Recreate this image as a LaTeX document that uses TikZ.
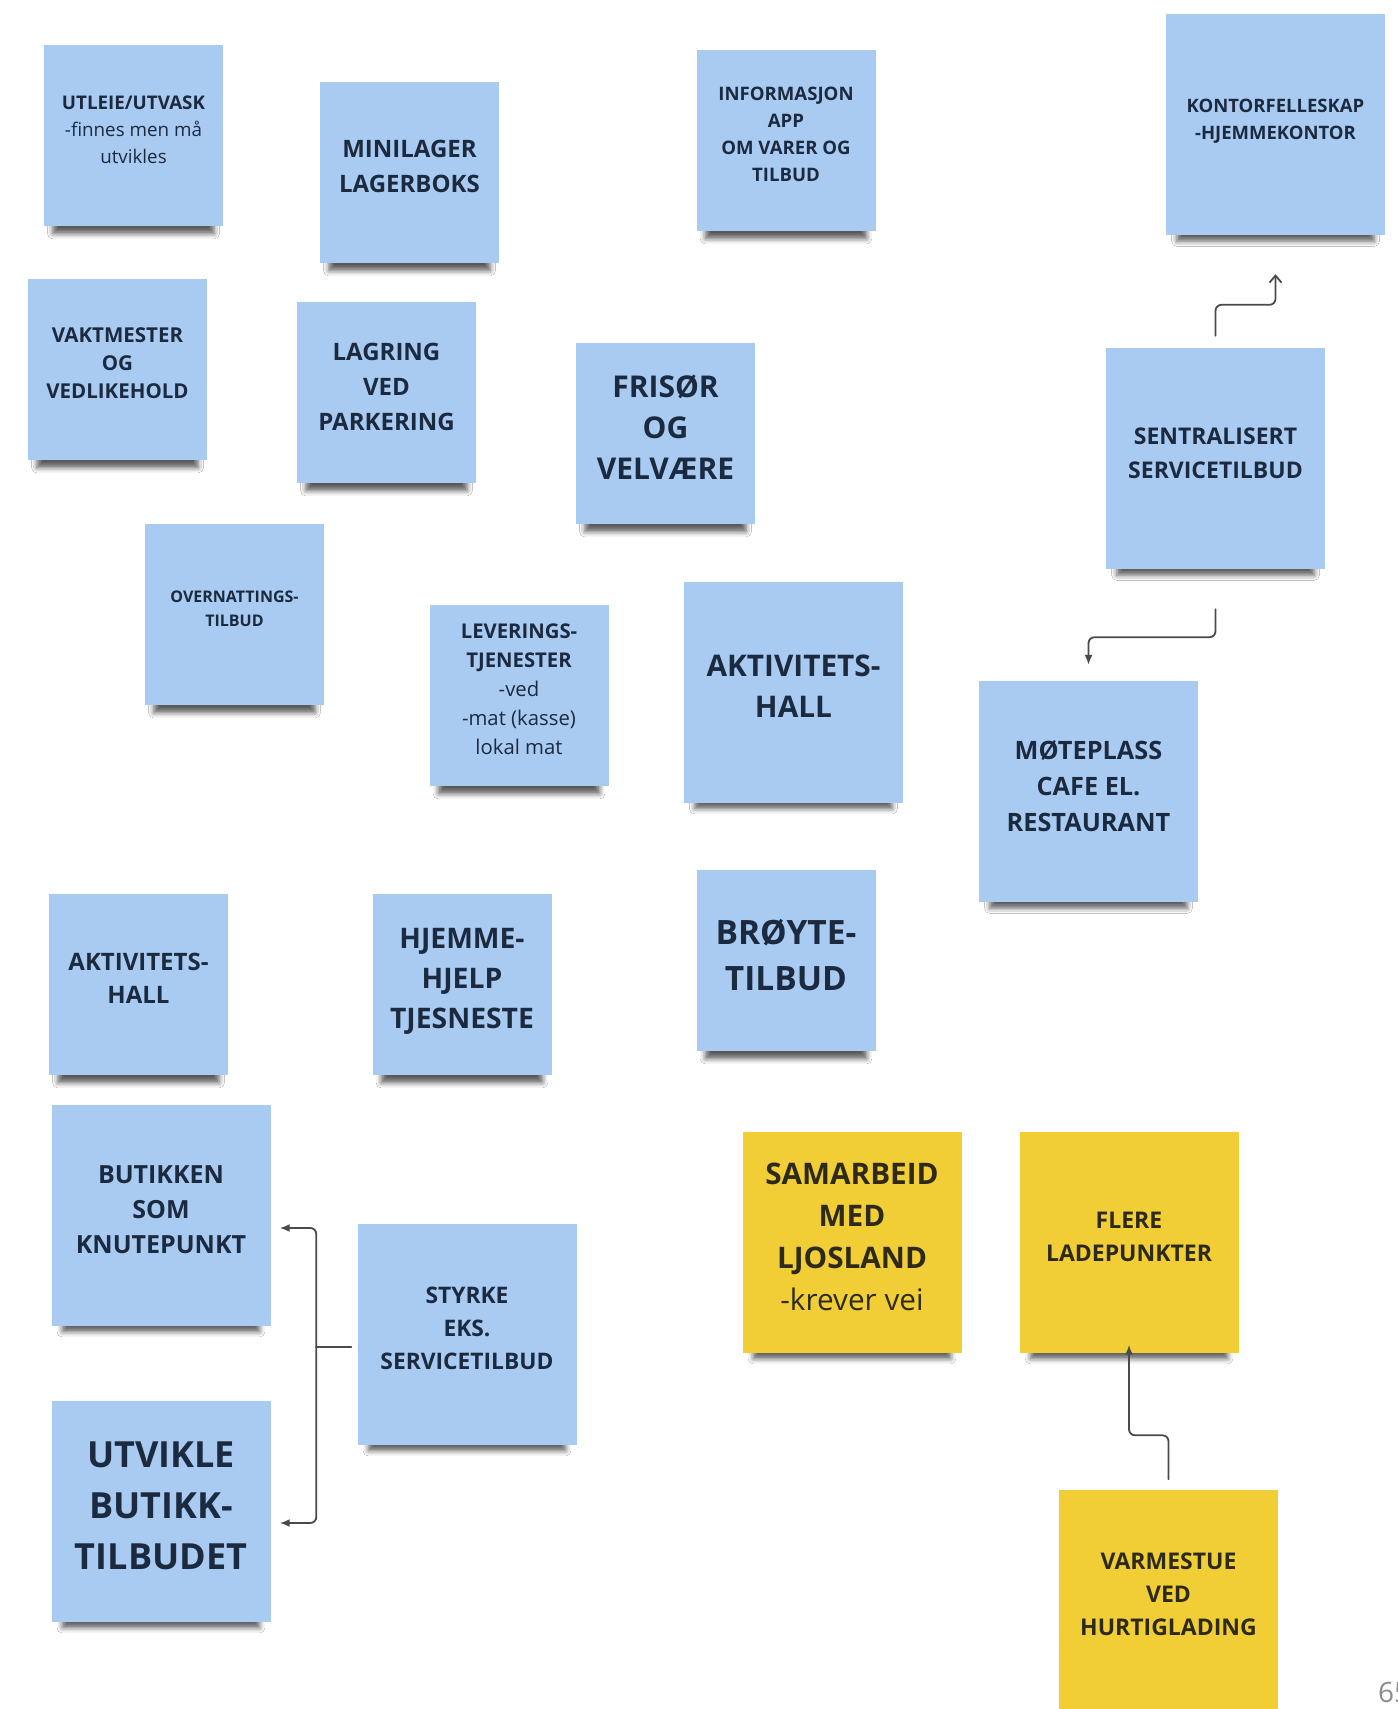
\documentclass[tikz,border=0pt]{standalone}
\usepackage{fontspec}
\setmainfont{Open Sans}
\usepackage{xcolor}
\usepackage{tikz}
\usetikzlibrary{calc,arrows.meta,shadows.blur}
\definecolor{paper}{HTML}{FFFFFF}
\definecolor{stickyblue}{HTML}{A9CBF2}
\definecolor{stickyyellow}{HTML}{F2CE36}
\definecolor{inkblue}{HTML}{1C2A40}
\definecolor{inkyellow}{HTML}{2E2A1A}
\definecolor{wire}{HTML}{4A4A4A}
\definecolor{pagenum}{HTML}{8C8C8C}
\tikzset{
  note/.style={minimum width=179pt, minimum height=181pt, inner sep=0pt, align=center,
    text depth=11pt,
    blur shadow={shadow xshift=0pt, shadow yshift=-19pt, shadow scale=0.9,
      shadow blur radius=6pt, shadow opacity=65}},
  bignote/.style={note, minimum width=219pt, minimum height=221pt},
  bluenote/.style={fill=stickyblue, text=inkblue},
  yellownote/.style={fill=stickyyellow, text=inkyellow},
  fs/.style 2 args={font=\fontsize{#1}{#2}\selectfont\bfseries},
  link/.style={draw=wire, line width=1.8pt, rounded corners=6pt, line cap=round},
  headarrow/.style={-{Latex[length=10pt,width=8pt]}},
}

\begin{document}
\begin{tikzpicture}[x=1pt, y=-1pt]
  \fill[paper] (0,0) rectangle (1398,1709);
  \useasboundingbox (0,0) rectangle (1398,1709);

  % blue stickies
  \node[note, bluenote, fs={18.8}{27}] (utleie) at (133.5,135)
    {UTLEIE/UTVASK\\{\mdseries -finnes men må}\\{\mdseries utvikles}};
  \node[note, bluenote, fs={24}{35}] (minilager) at (409.5,172) {MINILAGER\\LAGERBOKS};
  \node[note, bluenote, fs={18.6}{27}] (info) at (786,140) {INFORMASJON\\APP\\OM VARER OG\\TILBUD};
  \node[bignote, bluenote, fs={18.5}{27}] (kontor) at (1275.5,124.5) {KONTORFELLESKAP\\-HJEMMEKONTOR};
  \node[note, bluenote, fs={20.5}{28}] (vaktmester) at (117.5,369) {VAKTMESTER\\OG\\VEDLIKEHOLD};
  \node[note, bluenote, fs={24}{35}] (lagring) at (386.5,392) {LAGRING\\VED\\PARKERING};
  \node[note, bluenote, fs={30}{41}] (frisor) at (665.5,433) {FRISØR\\OG\\VELVÆRE};
  \node[bignote, bluenote, fs={23}{34}] (sentral) at (1215.5,458.5) {SENTRALISERT\\SERVICETILBUD};
  \node[note, bluenote, fs={16}{24}] (overnatting) at (234.5,614) {OVERNATTINGS-\\TILBUD};
  \node[note, bluenote, fs={20.3}{29}] (levering) at (519,695)
    {LEVERINGS-\\TJENESTER\\{\mdseries -ved}\\{\mdseries -mat (kasse)}\\{\mdseries lokal mat}};
  \node[bignote, bluenote, fs={29.8}{41}] (hallbig) at (793.5,692) {AKTIVITETS-\\HALL};
  \node[bignote, bluenote, fs={25.3}{36}] (moteplass) at (1088.5,791.5) {MØTEPLASS\\CAFE EL.\\RESTAURANT};
  \node[note, bluenote, fs={33.5}{46}] (broyte) at (786,960) {BRØYTE-\\TILBUD};
  \node[note, bluenote, fs={24}{33}] (hall) at (138.5,984) {AKTIVITETS-\\HALL};
  \node[note, bluenote, fs={28.3}{40}] (hjemme) at (462,984) {HJEMME-\\HJELP\\TJESNESTE};
  \node[bignote, bluenote, fs={25}{35}] (butikken) at (161,1215) {BUTIKKEN\\SOM\\KNUTEPUNKT};
  \node[bignote, bluenote, fs={22.8}{33}] (styrke) at (467,1334) {STYRKE\\EKS.\\SERVICETILBUD};
  \node[bignote, bluenote, fs={36}{51}] (utvikle) at (161,1511) {UTVIKLE\\BUTIKK-\\TILBUDET};

  % yellow stickies
  \node[bignote, yellownote, fs={29.7}{42}] (samarbeid) at (852,1242)
    {SAMARBEID\\MED\\LJOSLAND\\{\mdseries -krever vei}};
  \node[bignote, yellownote, fs={23}{33}] (flere) at (1129,1242) {FLERE\\LADEPUNKTER};
  \node[bignote, yellownote, fs={23}{33}] (varmestue) at (1168.5,1600) {VARMESTUE\\VED\\HURTIGLADING};

  \node[text=pagenum, font=\fontsize{28}{28}\selectfont, anchor=west, inner sep=0pt] (page) at (1378,1692) {65};

  % connectors
  \draw[link, -{Straight Barb[length=7pt,width=12pt]}]
    ($(sentral.north)+(0,-12)$) -- ++(0,-31) -| ($(kontor.south)+(0,39)$);
  \draw[link, headarrow] ($(sentral.south)+(0,40)$) -- ++(0,28) -| ($(moteplass.north)+(0,-16)$);

  \coordinate (fork) at ($(styrke.west)+(-41,13)$);
  \draw[link] ($(styrke.west)+(-6,13)$) -- (fork);
  \draw[link, headarrow] (fork) |- ($(butikken.east)+(9,13)$);
  \draw[link, headarrow] (fork) |- ($(utvikle.east)+(9,12)$);

  \draw[link, headarrow] ($(varmestue.north)+(0,-10)$) -- ++(0,-44) -| ($(flere.south)+(0,-8)$);
\end{tikzpicture}
\end{document}
